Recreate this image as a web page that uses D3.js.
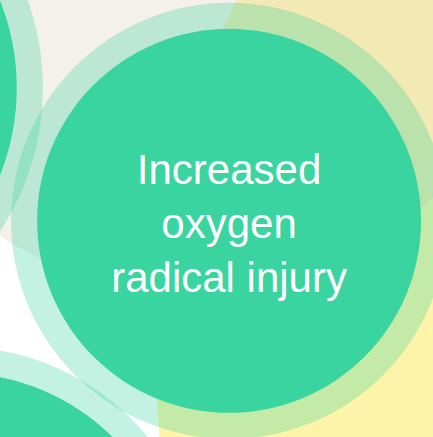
<!DOCTYPE html>
<html>
<head>
<meta charset="utf-8">
<script src="https://cdn.jsdelivr.net/npm/d3@7"></script>
<style>
  html, body { margin: 0; padding: 0; background: #ffffff; overflow: hidden; }
  svg { display: block; }
</style>
</head>
<body>
<svg id="chart" width="433" height="437"></svg>
<script>
// ---- data (value space) ----
// background group bubbles
const groupNames  = ["Group A", "Group B"];
const groupX      = [44.3, 230.9];
const groupY      = [-13.9, 83.1];
const groupValue  = [338, 1932];
const groupColor  = ["#e0d4c9", "#fef4a9"];
const groupAlpha  = [0.35, 1];

// node bubbles
const nodeLabels  = ["", "Increased oxygen radical injury", ""];
const nodeLines   = [[], ["Increased", "oxygen", "radical injury"], []];
const nodeX       = [-50.6, 52.9, -9.7];
const nodeY       = [20.3, 51.0, 136.7];
const nodeValue   = [151, 100, 130];

const W = 433, H = 437;
const x = d3.scaleLinear().domain([0, 100]).range([0, W]);
const y = d3.scaleLinear().domain([0, 100]).range([0, W]);
const r = d3.scaleSqrt().domain([0, 100]).range([0, 192]);

const svg = d3.select("#chart");

const groups = groupNames.map((n, i) => ({name: n, x: groupX[i], y: groupY[i], v: groupValue[i], c: groupColor[i], a: groupAlpha[i]}));
// draw yellow first, gray translucent on top
svg.append("g").selectAll("circle")
  .data([groups[1], groups[0]])
  .join("circle")
  .attr("cx", d => x(d.x))
  .attr("cy", d => y(d.y))
  .attr("r", d => r(d.v))
  .attr("fill", d => d.c)
  .attr("fill-opacity", d => d.a);

const nodes = nodeLabels.map((l, i) => ({label: l, lines: nodeLines[i], x: nodeX[i], y: nodeY[i], v: nodeValue[i]}));
const green = "#3ad4a0";
const halo = 26;

// halos
svg.append("g").selectAll("circle")
  .data(nodes)
  .join("circle")
  .attr("cx", d => x(d.x))
  .attr("cy", d => y(d.y))
  .attr("r", d => r(d.v) + halo / 2)
  .attr("fill", "none")
  .attr("stroke", green)
  .attr("stroke-opacity", 0.3)
  .attr("stroke-width", halo);

// solid bubbles
svg.append("g").selectAll("circle")
  .data(nodes)
  .join("circle")
  .attr("cx", d => x(d.x))
  .attr("cy", d => y(d.y))
  .attr("r", d => r(d.v))
  .attr("fill", green);

// labels
const fs = 42, lh = 54;
const lab = svg.append("g").selectAll("text")
  .data(nodes.filter(d => d.lines.length))
  .join("text")
  .attr("text-anchor", "middle")
  .attr("font-family", "Liberation Sans, Arial, sans-serif")
  .attr("font-size", fs)
  .attr("fill", "#ffffff");
lab.each(function(d) {
  const n = d.lines.length;
  d3.select(this).selectAll("tspan")
    .data(d.lines)
    .join("tspan")
    .attr("x", x(d.x))
    .attr("y", (t, i) => y(d.y) + 17 + (i - (n - 1) / 2) * lh)
    .text(t => t);
});
</script>
</body>
</html>
